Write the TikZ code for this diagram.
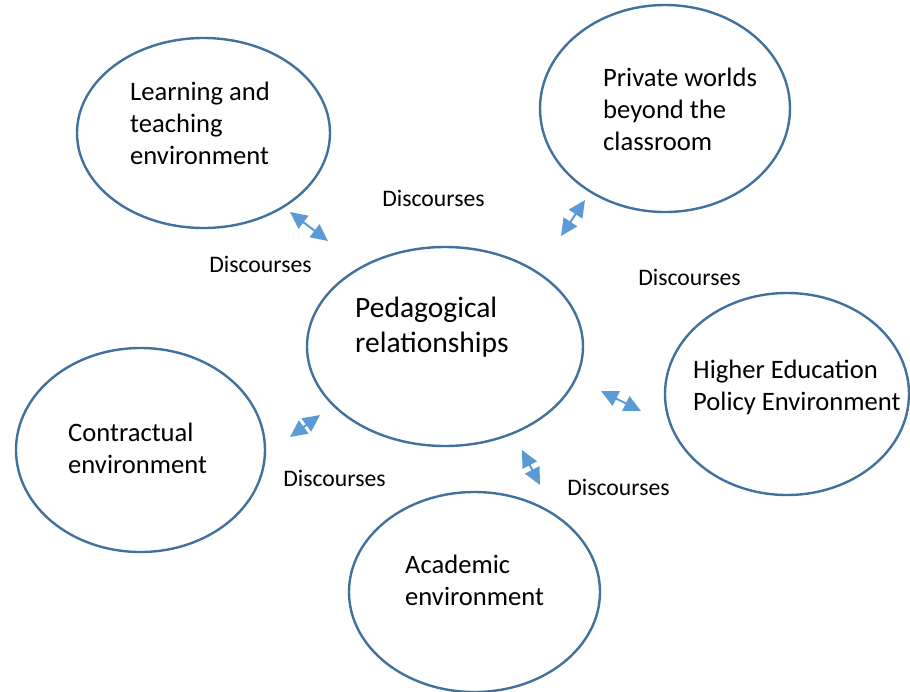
\documentclass[tikz,border=0pt]{standalone}
\usepackage{fontspec}
\setmainfont{Carlito}
\usetikzlibrary{shapes.geometric,arrows.meta}
\definecolor{ringblue}{HTML}{41719C}
\definecolor{arrowblue}{HTML}{5B9BD5}
\tikzset{
  ring/.style={draw=ringblue, line width=2.4pt, ellipse, fill=white},
  ringtext/.style={anchor=west, align=left, font=\fontsize{26.6}{32}\selectfont, inner sep=0pt},
  bigtext/.style={anchor=west, align=left, font=\fontsize{29.5}{35}\selectfont, inner sep=0pt},
  disc/.style={font=\fontsize{23.7}{26}\selectfont, inner sep=0pt},
  link/.style={draw=arrowblue, line width=2pt, {Triangle[length=17pt,width=16pt]}-{Triangle[length=17pt,width=16pt]}}
}
\begin{document}
\begin{tikzpicture}[x=1pt,y=-1pt]
\useasboundingbox (0,0) rectangle (910,691);
\clip (0,0) rectangle (910,691);
% ellipses
\draw[ring] (203.5,133) ellipse [x radius=126.5, y radius=95];
\draw[ring] (665,108.5) ellipse [x radius=125, y radius=103.5];
\draw[ring] (445,346.5) ellipse [x radius=138, y radius=99.5];
\draw[ring] (787,394) ellipse [x radius=122, y radius=101];
\draw[ring] (140.5,450) ellipse [x radius=124.5, y radius=102];
\draw[ring] (474.5,592) ellipse [x radius=125.5, y radius=100];
% texts
\node[ringtext] (learn) at (130,123) {Learning and\\teaching\\environment};
\node[ringtext] (priv) at (603,109) {Private worlds\\beyond the\\classroom};
\node[bigtext] (ped) at (355,327.5) {Pedagogical\\relationships};
\node[ringtext] (hep) at (693,387) {Higher Education\\Policy Environment};
\node[ringtext] (contr) at (68,448) {Contractual\\environment};
\node[ringtext] (acad) at (405,580.5) {Academic\\environment};
% labels
\node[disc] (d1) at (433.5,198) {Discourses};
\node[disc] (d2) at (260.5,264) {Discourses};
\node[disc] (d3) at (689.5,277) {Discourses};
\node[disc] (d4) at (334.5,478) {Discourses};
\node[disc] (d5) at (618.5,487) {Discourses};
% arrow ends
\coordinate (a1s) at (290,212); \coordinate (a1e) at (328,241);
\coordinate (a2s) at (585,200); \coordinate (a2e) at (561,236);
\coordinate (a3s) at (601,391); \coordinate (a3e) at (641,411);
\coordinate (a4s) at (290,437); \coordinate (a4e) at (320,415);
\coordinate (a5s) at (522,450); \coordinate (a5e) at (540,485);
\draw[link] (a1s) -- (a1e);
\draw[link] (a2s) -- (a2e);
\draw[link] (a3s) -- (a3e);
\draw[link] (a4s) -- (a4e);
\draw[link] (a5s) -- (a5e);
\end{tikzpicture}
\end{document}
